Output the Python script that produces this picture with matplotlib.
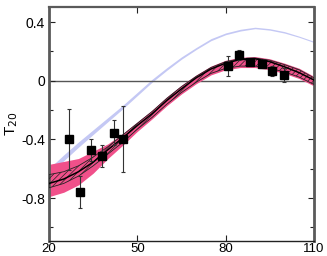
import numpy as np
import matplotlib
matplotlib.use("Agg")
import matplotlib.pyplot as plt
from matplotlib.ticker import MultipleLocator

plt.rcParams['font.family'] = ['Liberation Sans', 'DejaVu Sans']
plt.rcParams['hatch.linewidth'] = 0.5

# curves
x_curve = [20, 25, 30, 35, 40, 45, 50, 55, 60, 65, 70, 75, 80, 85, 90, 95, 100, 105, 110]

blue_mid = [-0.62, -0.525, -0.435, -0.35, -0.265, -0.18, -0.09, 0.0, 0.08, 0.155, 0.22, 0.28,
            0.32, 0.345, 0.36, 0.35, 0.33, 0.30, 0.265]
blue_hw = [0.022, 0.02, 0.018, 0.016, 0.014, 0.012, 0.011, 0.01, 0.009, 0.008, 0.007, 0.007,
           0.006, 0.006, 0.005, 0.005, 0.005, 0.004, 0.004]

pink_lo = [-0.79, -0.76, -0.71, -0.63, -0.53, -0.44, -0.345, -0.26, -0.17, -0.09, -0.02, 0.04,
           0.075, 0.09, 0.09, 0.075, 0.05, 0.015, -0.035]
pink_hi = [-0.57, -0.55, -0.53, -0.48, -0.43, -0.36, -0.28, -0.20, -0.11, -0.03, 0.04, 0.10,
           0.14, 0.16, 0.165, 0.15, 0.12, 0.085, 0.03]

hatch_lo = [-0.73, -0.70, -0.65, -0.58, -0.50, -0.42, -0.33, -0.25, -0.16, -0.08, -0.01, 0.05,
            0.085, 0.10, 0.10, 0.085, 0.06, 0.025, -0.025]
hatch_hi = [-0.64, -0.62, -0.58, -0.52, -0.45, -0.37, -0.29, -0.21, -0.12, -0.04, 0.03, 0.09,
            0.13, 0.15, 0.155, 0.14, 0.11, 0.075, 0.02]

black_line = [-0.70, -0.67, -0.62, -0.555, -0.47, -0.39, -0.305, -0.225, -0.135, -0.055, 0.02,
              0.08, 0.12, 0.145, 0.15, 0.13, 0.095, 0.055, 0.005]

# data points
x_pts = [26.8, 30.4, 34.3, 38.0, 41.9, 45.2, 80.9, 84.6, 88.2, 92.2, 95.9, 99.8]
y_pts = [-0.40, -0.76, -0.47, -0.51, -0.355, -0.40, 0.10, 0.175, 0.13, 0.114, 0.066, 0.039]
y_err = [0.205, 0.11, 0.075, 0.075, 0.085, 0.225, 0.07, 0.035, 0.02, 0.03, 0.035, 0.05]

fig = plt.figure(figsize=(3.27, 2.56), dpi=100)
ax = fig.add_axes([0.150, 0.060, 0.810, 0.911])

ax.fill_between(x_curve, np.array(blue_mid) - np.array(blue_hw), np.array(blue_mid) + np.array(blue_hw),
                color='#c4c8f4', lw=0, zorder=1)
ax.fill_between(x_curve, pink_lo, pink_hi, color='#f0508a', lw=0, zorder=2)
ax.fill_between(x_curve, hatch_lo, hatch_hi, facecolor='none', edgecolor='#222222',
                hatch='//////', lw=0.6, zorder=3)
ax.plot(x_curve, black_line, color='black', lw=1.1, zorder=4)

ax.axhline(0, color='#555555', lw=1.0, zorder=1.5)

ax.errorbar(x_pts, y_pts, yerr=y_err, fmt='s', color='black', ms=5.5,
            ecolor='#333333', elinewidth=0.8, capsize=1.5, capthick=0.8, zorder=5)

ax.set_xlim(20, 110)
ax.set_ylim(-1.09, 0.5)
ax.set_xticks([20, 50, 80, 110])
ax.set_xticklabels(['20', '50', '80', '110'])
ax.set_yticks([-0.8, -0.4, 0, 0.4])
ax.set_yticklabels(['-0.8', '-0.4', '0', '0.4'])
ax.yaxis.set_minor_locator(MultipleLocator(0.2))
ax.tick_params(which='both', direction='in', top=True, right=True, labelsize=10,
               color='#222222', width=0.8)
ax.tick_params(which='major', length=4, pad=3)
ax.tick_params(which='minor', length=3)
ax.tick_params(axis='x', pad=1.5, labelsize=9.5)

for side in ['left', 'right']:
    ax.spines[side].set_linewidth(2.0)
    ax.spines[side].set_color('#5a5a5a')
ax.spines['top'].set_linewidth(1.6)
ax.spines['top'].set_color('#5a5a5a')
ax.spines['bottom'].set_linewidth(1.0)
ax.spines['bottom'].set_color('#222222')

ax.set_ylabel('T$_{20}$', fontsize=11, labelpad=1)

fig.savefig('out.png', dpi=100)
